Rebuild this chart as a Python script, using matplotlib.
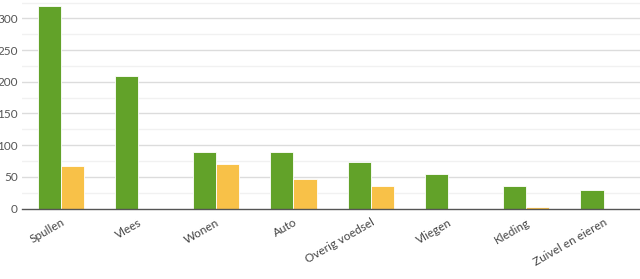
import matplotlib
matplotlib.use("Agg")
import matplotlib.pyplot as plt
import numpy as np

categories = ["Spullen", "Vlees", "Wonen", "Auto", "Overig voedsel", "Vliegen", "Kleding", "Zuivel en eieren"]
series_green = [319, 209, 89, 89, 73, 54, 35, 29]
series_yellow = [67, 0, 71, 46, 35, 0, 2.5, 0]
yticks = [0, 50, 100, 150, 200, 250, 300]

plt.rcParams['font.family'] = ['Lato', 'DejaVu Sans']

fig = plt.figure(figsize=(6.4, 2.79), dpi=100)
ax = fig.add_axes([22/640, (279-208.5)/279, 618/640, 208.5/279])

x = np.arange(len(categories))
w = 0.3
ax.bar(x - w/2, series_green, width=w, color="#62a229", edgecolor="white", linewidth=0.6, zorder=3)
ax.bar(x + w/2, series_yellow, width=w, color="#f8c148", edgecolor="white", linewidth=0.6, zorder=3)

ax.set_xlim(-0.5, 7.47)
ax.set_ylim(0, 329)

for v in np.arange(25, 330, 50):
    ax.axhline(v, color="#f1f1f1", linewidth=1.0, zorder=1)
for v in yticks[1:]:
    ax.axhline(v, color="#dcdcdc", linewidth=1.0, zorder=1)

ax.set_yticks(yticks)
ax.set_yticklabels([str(t) for t in yticks], fontsize=8.5, color="#555555")
ax.set_xticks(x)
ax.set_xticklabels(categories, rotation=30, ha="right", rotation_mode="anchor", fontsize=8.5, color="#444444")
ax.tick_params(axis="y", length=0, pad=3)
ax.tick_params(axis="x", length=0, pad=6)

for s in ["top", "right", "left"]:
    ax.spines[s].set_visible(False)
ax.spines["bottom"].set_color("#555555")
ax.spines["bottom"].set_linewidth(1.0)
ax.spines["bottom"].set_zorder(4)

fig.savefig("out.png", dpi=100)
